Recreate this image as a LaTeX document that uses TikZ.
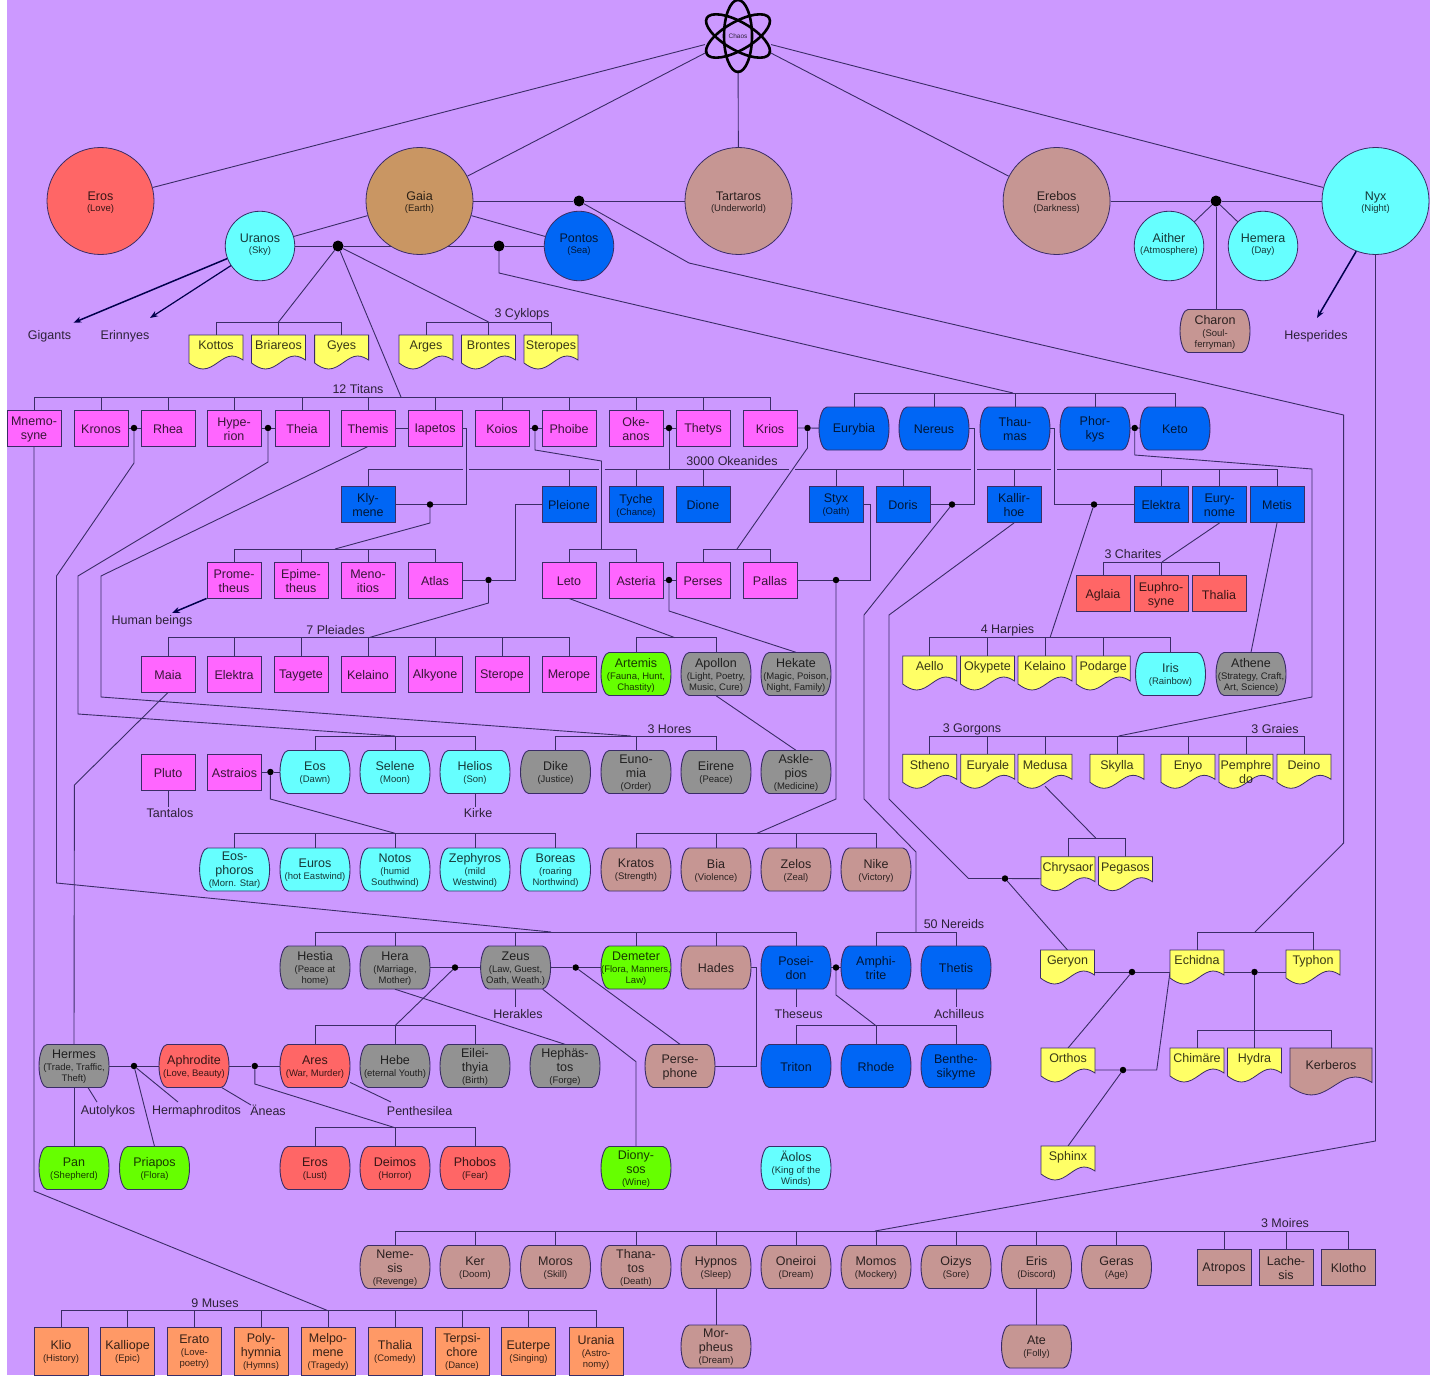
\documentclass[tikz,border=0pt]{standalone}
\usepackage{fontspec}
\setmainfont{Liberation Sans}
\usetikzlibrary{arrows.meta}
\pgfdeclarelayer{bg}
\pgfdeclarelayer{shp}
\pgfsetlayers{bg,shp,main}
\definecolor{cBg}{HTML}{CC99FF}
\definecolor{cLine}{HTML}{3A2C66}
\definecolor{cMag}{HTML}{FF66FF}
\definecolor{cBlu}{HTML}{0066F5}
\definecolor{cCya}{HTML}{66FFFF}
\definecolor{cRed}{HTML}{FF6666}
\definecolor{cBrn}{HTML}{C69693}
\definecolor{cTan}{HTML}{C99663}
\definecolor{cGry}{HTML}{929292}
\definecolor{cGrn}{HTML}{66FF00}
\definecolor{cOra}{HTML}{FF9966}
\definecolor{cYel}{HTML}{FFFF66}
\newcommand\sm[1]{{\fontsize{9.5}{11}\selectfont #1}}
\newcommand\toppad[1]{\everycr{\noalign{\vskip#1\global\everycr{}}}}
\newcommand\dn{\rule[-5pt]{0pt}{1pt}}
\tikzset{
  base/.style={inner sep=0pt,align=center,text opacity=0.78,font=\fontsize{12.5}{14}\selectfont},
  tx/.style={base,execute at begin node={\rule{0pt}{11pt}\toppad{2pt}}},
  rec/.style={tx,rectangle,draw=cLine,line width=0.9pt,fill=#1,minimum width=54pt,minimum height=36pt},
  barbody/.style={draw=cLine,line width=0.9pt},
  bar/.style={tx,rectangle,minimum width=70pt,minimum height=43pt,
    append after command={\pgfextra{\begin{pgfonlayer}{shp}
      \path[barbody,fill=#1,shift={(\tikzlastnode.center)}]
        (-27,-21.5) -- (27,-21.5)
        .. controls (31,-21.5) and (35,-12) .. (35,0)
        .. controls (35,12) and (31,21.5) .. (27,21.5)
        -- (-27,21.5)
        .. controls (-31,21.5) and (-35,12) .. (-35,0)
        .. controls (-35,-12) and (-31,-21.5) .. (-27,-21.5) -- cycle;
      \end{pgfonlayer}}}},
  big/.style={base,execute at begin node={\toppad{3pt}},circle,draw=cLine,line width=0.8pt,fill=#1,minimum size=107pt},
  mid/.style={base,circle,draw=cLine,line width=0.8pt,fill=#1,minimum size=69.5pt},
  doctext/.style={tx,rectangle,anchor=north,inner xsep=0pt,inner ysep=3.5pt},
  docbody/.style={draw=cLine,line width=0.8pt,fill=cYel},
  lab/.style={tx},
  jdot/.style={circle,fill=black,inner sep=0pt,minimum size=6.5pt},
  jbig/.style={circle,fill=black,inner sep=0pt,minimum size=11pt},
  conn/.style={draw=cLine,line width=0.9pt},
  arr/.style={draw=black!70!blue,line width=1.5pt,-{Stealth[length=8pt,width=6pt]}},
  atom/.style={draw=black,line width=2.6pt},
}
\newcommand\docnode[4]{%
  \path[docbody,shift={(#2,#3)}] (-27,0) -- (27,0) -- (27,25)
    .. controls (24,23) and (20,21) .. (16,21)
    .. controls (6,21) and (-2,34) .. (-13,34)
    .. controls (-18,34) and (-23,31) .. (-27,28) -- cycle;
  \node[doctext] (#1) at (#2,#3) {#4};
  \coordinate (#1-l) at (#2-27,#3+22);
  \coordinate (#1-r) at (#2+27,#3+22);
  \coordinate (#1-b) at (#2,#3+32);
}
\begin{document}
\begin{tikzpicture}[x=1pt,y=-1pt]
\useasboundingbox (0,0) rectangle (1431,1375);

% ---------- top gods
\node[base,circle,minimum size=68pt,font=\fontsize{6.5}{7}\selectfont] (chaos) at (738,36) {Chaos};
\foreach \a in {0,60,120}
  \draw[atom,shift={(chaos.center)},rotate=\a] (0,0) ellipse [x radius=14,y radius=36];
\node[big=cRed] (eros) at (100.5,201) {Eros\\[-3pt]\sm{(Love)}};
\node[big=cTan] (gaia) at (419.5,201) {Gaia\\[-3pt]\sm{(Earth)}};
\node[big=cBrn] (tartaros) at (738.5,201) {Tartaros\\[-3pt]\sm{(Underworld)}};
\node[big=cBrn] (erebos) at (1056.6,201) {Erebos\\[-3pt]\sm{(Darkness)}};
\node[big=cCya] (nyx) at (1375.5,201) {Nyx\\[-3pt]\sm{(Night)}};
\node[mid=cCya] (uranos) at (260,246) {Uranos\\[-3pt]\sm{(Sky)}\dn};
\node[mid=cBlu] (pontos) at (579,246) {Pontos\\[-3pt]\sm{(Sea)}\dn};
\node[mid=cCya] (aither) at (1169,246) {Aither\\[-3pt]\sm{(Atmosphere)}\dn};
\node[mid=cCya] (hemera) at (1263,246) {Hemera\\[-3pt]\sm{(Day)}\dn};
\node[bar=cBrn] (charon) at (1215,331) {Charon\\[-2pt]\sm{(Soul-}\\[-3pt]\sm{ferryman)}};

\node[jbig] (jUr) at (338,246) {};
\node[jbig] (jPo) at (499,246) {};
\node[jbig] (jGT) at (579,201) {};
\node[jbig] (jEr) at (1216,201) {};

\node[lab] (gigants) at (49.5,335.5) {Gigants};
\node[lab] (erinnyes) at (125,335.5) {Erinnyes};
\node[lab] (hesperides) at (1316,335.5) {Hesperides};

% ---------- cyklops
\docnode{kottos}{216}{335}{Kottos}
\docnode{briareos}{278.5}{335}{Briareos}
\docnode{gyes}{341.6}{335}{Gyes}
\docnode{arges}{426}{335}{Arges}
\docnode{brontes}{488.5}{335}{Brontes}
\docnode{steropes}{551}{335}{Steropes}
\node[lab] (lCyk) at (522,313) {3 Cyklops};
\node[lab] (lTit) at (358,388.5) {12 Titans};

% ---------- titans
\node[rec=cMag] (mnemo) at (34,428) {Mnemo-\\syne};
\node[rec=cMag] (kronos) at (101,428) {Kronos};
\node[rec=cMag] (rhea) at (168,428) {Rhea};
\node[rec=cMag] (hyperion) at (234,428) {Hype-\\rion};
\node[rec=cMag] (theia) at (302,428) {Theia};
\node[rec=cMag] (themis) at (368,428) {Themis};
\node[rec=cMag] (iapetos) at (435,428) {Iapetos};
\node[rec=cMag] (koios) at (502,428) {Koios};
\node[rec=cMag] (phoibe) at (569,428) {Phoibe};
\node[rec=cMag] (okeanos) at (636,428) {Oke-\\anos};
\node[rec=cMag] (thetys) at (703,428) {Thetys};
\node[rec=cMag] (krios) at (770,428) {Krios};
\node[bar=cBlu] (eurybia) at (854,428.5) {Eurybia};
\node[bar=cBlu] (nereus) at (934,428.5) {Nereus};
\node[bar=cBlu] (thaumas) at (1015,428.5) {Thau-\\mas};
\node[bar=cBlu] (phorkys) at (1095,428.5) {Phor-\\kys};
\node[bar=cBlu] (keto) at (1175,428.5) {Keto};
\node[jdot] (jKR) at (134,428) {};
\node[jdot] (jHT) at (268,428) {};
\node[jdot] (jKP) at (535,428) {};
\node[jdot] (jOT) at (669,428) {};
\node[jdot] (jKE) at (807.5,428) {};
\node[jdot] (jPK) at (1134.7,428) {};

% ---------- okeanides row
\node[lab] (lOke) at (732,460) {3000 Okeanides};
\node[rec=cBlu] (klymene) at (368,504.5) {Kly-\\mene};
\node[rec=cBlu] (pleione) at (569,504.5) {Pleione};
\node[rec=cBlu] (tyche) at (636,504.5) {Tyche\\[-2pt]\sm{(Chance)}};
\node[rec=cBlu] (dione) at (703,504.5) {Dione};
\node[rec=cBlu] (styx) at (836,504.5) {Styx\\[-2pt]\sm{(Oath)}};
\node[rec=cBlu] (doris) at (903,504.5) {Doris};
\node[rec=cBlu] (kallirhoe) at (1014,504.5) {Kallir-\\hoe};
\node[rec=cBlu] (elektraO) at (1161,504.5) {Elektra};
\node[rec=cBlu] (eurynome) at (1219.5,504.5) {Eury-\\nome};
\node[rec=cBlu] (metis) at (1277,504.5) {Metis};
\node[jdot] (jIK) at (430,504.5) {};
\node[jdot] (jND) at (952,504.5) {};
\node[jdot] (jTE) at (1094,504.5) {};

% ---------- row 580
\node[rec=cMag] (prometheus) at (234,580) {Prome-\\theus};
\node[rec=cMag] (epimetheus) at (301,580) {Epime-\\theus};
\node[rec=cMag] (menoitios) at (368,580) {Meno-\\itios};
\node[rec=cMag] (atlas) at (435,580) {Atlas};
\node[rec=cMag] (leto) at (569,580) {Leto};
\node[rec=cMag] (asteria) at (636,580) {Asteria};
\node[rec=cMag] (perses) at (703,580) {Perses};
\node[rec=cMag] (pallas) at (770,580) {Pallas};
\node[jdot] (jAP) at (488.5,580) {};
\node[jdot] (jAs) at (669,580) {};
\node[jdot] (jPS) at (836,580) {};
\node[lab] (humans) at (152,620.5) {Human beings};
\node[lab] (lCha) at (1133,553.5) {3 Charites};
\node[rec=cRed] (aglaia) at (1103,593.8) {Aglaia};
\node[rec=cRed] (euphrosyne) at (1161,593.8) {Euphro-\\syne};
\node[rec=cRed] (thaliaC) at (1219,593.8) {Thalia};

% ---------- row 674
\node[lab] (lPle) at (335.6,629.5) {7 Pleiades};
\node[lab] (lHar) at (1007.5,629.5) {4 Harpies};
\node[rec=cMag] (maia) at (168,674) {Maia};
\node[rec=cMag] (elektraP) at (234,674) {Elektra};
\node[rec=cMag] (taygete) at (301,674) {Taygete};
\node[rec=cMag] (kelainoP) at (368,674) {Kelaino};
\node[rec=cMag] (alkyone) at (435,674) {Alkyone};
\node[rec=cMag] (sterope) at (502,674) {Sterope};
\node[rec=cMag] (merope) at (569,674) {Merope};
\node[bar=cGrn] (artemis) at (636,674) {Artemis\\[-2pt]\sm{(Fauna, Hunt,}\\[-3pt]\sm{Chastity)}};
\node[bar=cGry] (apollon) at (716,674) {Apollon\\[-2pt]\sm{(Light, Poetry,}\\[-3pt]\sm{Music, Cure)}};
\node[bar=cGry] (hekate) at (796,674) {Hekate\\[-2pt]\sm{(Magic, Poison,}\\[-3pt]\sm{Night, Family)}};
\docnode{aello}{929.7}{656}{Aello}
\docnode{okypete}{987.5}{656}{Okypete}
\docnode{kelainoH}{1045}{656}{Kelaino}
\docnode{podarge}{1103.2}{656}{Podarge}
\node[bar=cCya] (iris) at (1170.5,674) {Iris\\[-2pt]\sm{(Rainbow)}};
\node[bar=cGry] (athene) at (1251,674) {Athene\\[-2pt]\sm{(Strategy, Craft,}\\[-3pt]\sm{Art, Science)}};

% ---------- row 772
\node[lab] (lHor) at (669.4,728) {3 Hores};
\node[lab] (lGor) at (972,728) {3 Gorgons};
\node[lab] (lGra) at (1275,728) {3 Graies};
\node[rec=cMag] (pluto) at (168,772) {Pluto};
\node[rec=cMag] (astraios) at (234.5,772) {Astraios};
\node[bar=cCya] (eosD) at (315,772) {Eos\\[-2pt]\sm{(Dawn)}};
\node[bar=cCya] (selene) at (395,772) {Selene\\[-2pt]\sm{(Moon)}};
\node[bar=cCya] (helios) at (475,772) {Helios\\[-2pt]\sm{(Son)}};
\node[bar=cGry] (dike) at (555.5,772) {Dike\\[-2pt]\sm{(Justice)}};
\node[bar=cGry] (eunomia) at (636,772) {Euno-\\mia\\[-2pt]\sm{(Order)}};
\node[bar=cGry] (eirene) at (716,772) {Eirene\\[-2pt]\sm{(Peace)}};
\node[bar=cGry] (asklepios) at (796,772) {Askle-\\pios\\[-2pt]\sm{(Medicine)}};
\node[jdot] (jAE) at (270.4,772) {};
\docnode{stheno}{929.7}{754.3}{Stheno}
\docnode{euryale}{987.8}{754.3}{Euryale}
\docnode{medusa}{1045}{754.3}{Medusa}
\docnode{skylla}{1117}{754.3}{Skylla}
\docnode{enyo}{1188}{754.3}{Enyo}
\docnode{pemphredo}{1246}{754.3}{Pemphre\\do}
\docnode{deino}{1304}{754.3}{Deino}
\node[lab] (tantalos) at (170,812.5) {Tantalos};
\node[lab] (kirke) at (478,812.5) {Kirke};

% ---------- row 869
\node[bar=cCya] (eosphoros) at (234.6,869.5) {Eos-\\phoros\\[-2pt]\sm{(Morn. Star)}};
\node[bar=cCya] (euros) at (315,869.5) {Euros\\[-2pt]\sm{(hot Eastwind)}};
\node[bar=cCya] (notos) at (395,869.5) {Notos\\[-2pt]\sm{(humid}\\[-3pt]\sm{Southwind)}};
\node[bar=cCya] (zephyros) at (475,869.5) {Zephyros\\[-2pt]\sm{(mild}\\[-3pt]\sm{Westwind)}};
\node[bar=cCya] (boreas) at (555.5,869.5) {Boreas\\[-2pt]\sm{(roaring}\\[-3pt]\sm{Northwind)}};
\node[bar=cBrn] (kratos) at (636,869.5) {Kratos\\[-2pt]\sm{(Strength)}};
\node[bar=cBrn] (bia) at (716,869.5) {Bia\\[-2pt]\sm{(Violence)}};
\node[bar=cBrn] (zelos) at (796,869.5) {Zelos\\[-2pt]\sm{(Zeal)}};
\node[bar=cBrn] (nike) at (876,869.5) {Nike\\[-2pt]\sm{(Victory)}};
\docnode{chrysaor}{1068}{856.7}{Chrysaor}
\docnode{pegasos}{1125.4}{856.7}{Pegasos}
\node[jdot] (jKC) at (1005,878.5) {};

% ---------- row 968
\node[lab] (lNer) at (954,923) {50 Nereids};
\node[bar=cGry] (hestia) at (315,967.5) {Hestia\\[-2pt]\sm{(Peace at}\\[-3pt]\sm{home)}};
\node[bar=cGry] (hera) at (395,967.5) {Hera\\[-2pt]\sm{(Marriage,}\\[-3pt]\sm{Mother)}};
\node[bar=cGry] (zeus) at (515.6,967.5) {Zeus\\[-2pt]\sm{(Law, Guest,}\\[-3pt]\sm{Oath, Weath.)}};
\node[bar=cGrn] (demeter) at (636,967.5) {Demeter\\[-2pt]\sm{(Flora, Manners,}\\[-3pt]\sm{Law)}};
\node[bar=cBrn] (hades) at (716,967.5) {Hades};
\node[bar=cBlu] (poseidon) at (796,967.5) {Posei-\\don};
\node[bar=cBlu] (amphitrite) at (876,967.5) {Amphi-\\trite};
\node[bar=cBlu] (thetis) at (956,967.5) {Thetis};
\node[jdot] (jHZ) at (455,967.5) {};
\node[jdot] (jZD) at (575.7,967.5) {};
\node[jdot] (jPA) at (836,967.5) {};
\docnode{geryon}{1067.5}{950}{Geryon}
\docnode{echidna}{1197}{950}{Echidna}
\docnode{typhon}{1313}{950}{Typhon}
\node[jdot] (jGE) at (1132,972) {};
\node[jdot] (jET) at (1254.5,972) {};
\node[lab] (herakles) at (518,1013) {Herakles};
\node[lab] (theseus) at (798.6,1013) {Theseus};
\node[lab] (achilleus) at (959,1013) {Achilleus};

% ---------- row 1066
\node[bar=cGry] (hermes) at (74,1066) {Hermes\\[-2pt]\sm{(Trade, Traffic,}\\[-3pt]\sm{Theft)}};
\node[bar=cRed] (aphrodite) at (194,1066) {Aphrodite\\[-2pt]\sm{(Love, Beauty)}};
\node[bar=cRed] (ares) at (315,1066) {Ares\\[-2pt]\sm{(War, Murder)}};
\node[bar=cGry] (hebe) at (395,1066) {Hebe\\[-2pt]\sm{(eternal Youth)}};
\node[bar=cGry] (eileithyia) at (475,1066) {Eilei-\\thyia\\[-2pt]\sm{(Birth)}};
\node[bar=cGry] (hephaistos) at (565,1066) {Hephäs-\\tos\\[-2pt]\sm{(Forge)}};
\node[bar=cBrn] (persephone) at (680,1066) {Perse-\\phone};
\node[bar=cBlu] (triton) at (796,1066) {Triton};
\node[bar=cBlu] (rhode) at (876,1066) {Rhode};
\node[bar=cBlu] (benthesikyme) at (956,1066) {Benthe-\\sikyme};
\node[jdot] (jHA) at (134,1066) {};
\node[jdot] (jAA) at (254.8,1066) {};
\docnode{orthos}{1068}{1048}{Orthos}
\docnode{chimaere}{1197}{1048}{Chimäre}
\docnode{hydra}{1254.5}{1048}{Hydra}
\path[docbody,fill=cBrn,shift={(1331,1048)},xscale=1.52,yscale=1.38] (-27,0) -- (27,0) -- (27,25)
    .. controls (24,23) and (20,21) .. (16,21)
    .. controls (6,21) and (-2,34) .. (-13,34)
    .. controls (-18,34) and (-23,31) .. (-27,28) -- cycle;
\node[doctext,inner ysep=10pt] (kerberos) at (1331,1048) {Kerberos};
\node[jdot] (jOS) at (1123,1070) {};
\node[lab] (autolykos) at (108,1110.5) {Autolykos};
\node[lab] (hermaphroditos) at (196.5,1110.5) {Hermaphroditos};
\node[lab] (aneas) at (268,1110.5) {Äneas};
\node[lab] (penthesilea) at (419.6,1110.5) {Penthesilea};

% ---------- row 1168
\node[bar=cGrn] (pan) at (74,1168) {Pan\\[-2pt]\sm{(Shepherd)}};
\node[bar=cGrn] (priapos) at (154.5,1168) {Priapos\\[-2pt]\sm{(Flora)}};
\node[bar=cRed] (erosL) at (315,1168) {Eros\\[-2pt]\sm{(Lust)}};
\node[bar=cRed] (deimos) at (395,1168) {Deimos\\[-2pt]\sm{(Horror)}};
\node[bar=cRed] (phobos) at (475,1168) {Phobos\\[-2pt]\sm{(Fear)}};
\node[bar=cGrn] (dionysos) at (636,1168) {Diony-\\sos\\[-2pt]\sm{(Wine)}};
\node[bar=cCya] (aolos) at (796,1168) {Äolos\\[-2pt]\sm{(King of the}\\[-3pt]\sm{Winds)}};
\docnode{sphinx}{1068}{1146}{Sphinx}

% ---------- row 1267
\node[lab] (lMoi) at (1285,1222) {3 Moires};
\node[bar=cBrn] (nemesis) at (395,1267) {Neme-\\sis\\[-2pt]\sm{(Revenge)}};
\node[bar=cBrn] (ker) at (475,1267) {Ker\\[-2pt]\sm{(Doom)}};
\node[bar=cBrn] (moros) at (555.5,1267) {Moros\\[-2pt]\sm{(Skill)}};
\node[bar=cBrn] (thanatos) at (636,1267) {Thana-\\tos\\[-2pt]\sm{(Death)}};
\node[bar=cBrn] (hypnos) at (716,1267) {Hypnos\\[-2pt]\sm{(Sleep)}};
\node[bar=cBrn] (oneiroi) at (796,1267) {Oneiroi\\[-2pt]\sm{(Dream)}};
\node[bar=cBrn] (momos) at (876,1267) {Momos\\[-2pt]\sm{(Mockery)}};
\node[bar=cBrn] (oizys) at (956,1267) {Oizys\\[-2pt]\sm{(Sore)}};
\node[bar=cBrn] (eris) at (1036.5,1267) {Eris\\[-2pt]\sm{(Discord)}};
\node[bar=cBrn] (geras) at (1116.5,1267) {Geras\\[-2pt]\sm{(Age)}};
\node[rec=cBrn] (atropos) at (1224,1267) {Atropos};
\node[rec=cBrn] (lachesis) at (1286,1267) {Lache-\\sis};
\node[rec=cBrn] (klotho) at (1348.5,1267) {Klotho};
\node[bar=cBrn] (morpheus) at (716,1346.5) {Mor-\\pheus\\[-2pt]\sm{(Dream)}};
\node[bar=cBrn] (ate) at (1036.5,1346.5) {Ate\\[-2pt]\sm{(Folly)}};

% ---------- muses
\node[lab] (lMus) at (215,1302) {9 Muses};
\node[rec=cOra,minimum height=48pt] (klio) at (61,1351) {Klio\\[-2pt]\sm{(History)}};
\node[rec=cOra,minimum height=48pt] (kalliope) at (127.6,1351) {Kalliope\\[-2pt]\sm{(Epic)}};
\node[rec=cOra,minimum height=48pt] (erato) at (194.3,1351) {Erato\\[-2pt]\sm{(Love-}\\[-3pt]\sm{poetry)}};
\node[rec=cOra,minimum height=48pt] (polyhymnia) at (261,1351) {Poly-\\hymnia\\[-2pt]\sm{(Hymns)}};
\node[rec=cOra,minimum height=48pt] (melpomene) at (328,1351) {Melpo-\\mene\\[-2pt]\sm{(Tragedy)}};
\node[rec=cOra,minimum height=48pt] (thaliaM) at (395,1351) {Thalia\\[-2pt]\sm{(Comedy)}};
\node[rec=cOra,minimum height=48pt] (terpsichore) at (462,1351) {Terpsi-\\chore\\[-2pt]\sm{(Dance)}};
\node[rec=cOra,minimum height=48pt] (euterpe) at (528.5,1351) {Euterpe\\[-2pt]\sm{(Singing)}};
\node[rec=cOra,minimum height=48pt] (urania) at (596,1351) {Urania\\[-2pt]\sm{(Astro-}\\[-3pt]\sm{nomy)}};

% ---------- connectors, behind the nodes
\begin{pgfonlayer}{bg}
\fill[white] (0,0) rectangle (1431,1375);
\fill[cBg] (7,0) rectangle (1429.5,1375);

\coordinate (busKot) at (278.5,322);
\coordinate (busCyk) at (488.5,322);
\coordinate (busTit) at (401,397);
\coordinate (busEur) at (1013,393);
\coordinate (okbus) at (669,469);
\coordinate (busAtl) at (335,549);
\coordinate (busLet) at (601.5,549);
\coordinate (busPer) at (737,549);
\coordinate (busCha) at (1162,562);
\coordinate (busPle) at (368.7,637.7);
\coordinate (busArt) at (675,637.7);
\coordinate (busHar) at (1050,637.7);
\coordinate (busEos) at (395,736);
\coordinate (busHor) at (631,736);
\coordinate (busGor) at (1118.6,736);
\coordinate (busWin) at (395,833.3);
\coordinate (busKra) at (757,833.3);
\coordinate (busChr) at (1095.7,838);
\coordinate (busZeus) at (551,932);
\coordinate (busNer) at (916,932);
\coordinate (busEch) at (1255,932);
\coordinate (busAre) at (395,1025.7);
\coordinate (busTri) at (876,1025.7);
\coordinate (busChi) at (1254.5,1030.7);
\coordinate (busEro) at (395,1127.7);
\coordinate (busNyx) at (875,1231);
\coordinate (busMus) at (328,1310.7);

\foreach \n in {eros,gaia,tartaros,erebos,nyx} \draw[conn] (chaos) -- (\n);
\draw[conn] (gaia) -- (uranos);
\draw[conn] (gaia) -- (pontos);
\draw[conn] (gaia) -- (jGT) -- (tartaros);
\draw[conn] (uranos) -- (jUr) -- (jPo) -- (pontos);
\draw[conn] (erebos) -- (jEr) -- (nyx);
\draw[conn] (jEr) -- (aither);
\draw[conn] (jEr) -- (hemera);
\draw[conn] (jEr) -- (charon.north -| jEr);
\draw[conn] (jUr) -- (busKot);
\draw[conn] (jUr) -- (busCyk);
\draw[conn] (jUr) -- (busTit);
\foreach \n in {kottos,briareos,gyes} \draw[conn] (busKot) -| (\n.north);
\foreach \n in {arges,brontes,steropes} \draw[conn] (busCyk) -| (\n.north);
\foreach \n in {mnemo,kronos,rhea,hyperion,theia,themis,iapetos,koios,phoibe,okeanos,thetys,krios}
  \draw[conn] (busTit) -| (\n.north);
\draw[conn] (jPo) -- (499,273) -- (busEur);
\foreach \n in {eurybia,nereus,thaumas,phorkys,keto} \draw[conn] (busEur) -| (\n.north);
\draw[conn] (jGT) -- (689,263) -- (1343.6,415) -- (1343.6,843) -- (busEch);
\foreach \n in {echidna,typhon} \draw[conn] (busEch) -| (\n.north);

% titan couples
\draw[conn] (kronos) -- (jKR) -- (rhea);
\draw[conn] (hyperion) -- (jHT) -- (theia);
\draw[conn] (themis) -- (iapetos);
\draw[conn] (koios) -- (jKP) -- (phoibe);
\draw[conn] (okeanos) -- (jOT) -- (thetys);
\draw[conn] (krios) -- (jKE) -- (eurybia);
\draw[conn] (phorkys) -- (jPK) -- (keto);
\draw[conn] (jKR) -- (134,463) -- (56.5,576) -- (56.5,883) -- (busZeus);
\foreach \n in {hestia,hera,zeus,demeter,hades,poseidon} \draw[conn] (busZeus) -| (\n.north);
\draw[conn] (jHT) -- (268,462) -- (78,576) -- (78,714) -- (busEos);
\foreach \n in {eosD,selene,helios} \draw[conn] (busEos) -| (\n.north);
\draw[conn] (themis.south) -- (101,576) -- (101,697) -- (busHor);
\foreach \n in {dike,eunomia,eirene} \draw[conn] (busHor) -| (\n.north);

% 3000 Okeanides bus, broken where other lines cross it
\draw[conn] (jOT) -- (okbus);
\draw[conn] (klymene.north |- okbus) -- (463,469);
\draw[conn] (469,469) -- (598.5,469);
\draw[conn] (604.5,469) -- (789,469);
\draw[conn] (795,469) -- (971,469);
\draw[conn] (977,469) -- (1051,469);
\draw[conn] (1057,469) -- (metis.north |- okbus);
\foreach \n in {klymene,pleione,tyche,dione,styx,doris,kallirhoe,elektraO,eurynome,metis}
  \draw[conn] (\n.north |- okbus) -- (\n.north);

\draw[conn] (iapetos.east) -- (466,428) -- (466,504.5) -- (jIK) -- (klymene);
\draw[conn] (jIK) -- (430,523) -- (busAtl);
\foreach \n in {prometheus,epimetheus,menoitios,atlas} \draw[conn] (busAtl) -| (\n.north);
\draw[conn] (jKP) -- (535,450) -- (601.5,461) -- (busLet);
\foreach \n in {leto,asteria} \draw[conn] (busLet) -| (\n.north);
\draw[conn] (jKE) -- (807.5,448) -- (busPer);
\foreach \n in {perses,pallas} \draw[conn] (busPer) -| (\n.north);
\draw[conn] (nereus.east) -- (974,428.5) -- (974,504.5) -- (jND) -- (doris);
\draw[conn] (jND) -- (864,615) -- (864,799) -- (916,852) -- (busNer);
\foreach \n in {amphitrite,thetis} \draw[conn] (busNer) -| (\n.north);
\draw[conn] (thaumas.east) -- (1054,428.5) -- (1054,504.5) -- (jTE) -- (elektraO);
\draw[conn] (jTE) -- (busHar);
\foreach \n in {aello,okypete,kelainoH,podarge,iris} \draw[conn] (busHar) -| (\n.north);
\draw[conn] (eurynome.south) -- (busCha);
\foreach \n in {aglaia,euphrosyne,thaliaC} \draw[conn] (busCha) -| (\n.north);
\draw[conn] (metis.south) -- (athene.north);
\draw[conn] (jPK) -- (1134.7,455) -- (1312,469) -- (1312,697) -- (busGor);
\foreach \n in {stheno,euryale,medusa,skylla,enyo,pemphredo,deino} \draw[conn] (busGor) -| (\n.north);
\draw[conn] (kallirhoe.south) -- (889,615) -- (889,799) -- (968.5,878.5) -- (jKC) -- (chrysaor-l);
\draw[conn] (jKC) -- (geryon.north);
\draw[conn] (medusa-b) -- (busChr);
\foreach \n in {chrysaor,pegasos} \draw[conn] (busChr) -| (\n.north);

% row 580 couples
\draw[conn] (pleione.west) -- (515,504.5) -- (515,580) -- (jAP) -- (atlas);
\draw[conn] (jAP) -- (488.5,603) -- (busPle);
\foreach \n in {maia,elektraP,taygete,kelainoP,alkyone,sterope,merope} \draw[conn] (busPle) -| (\n.north);
\draw[conn] (leto.south) -- (busArt);
\foreach \n in {artemis,apollon} \draw[conn] (busArt) -| (\n.north);
\draw[conn] (asteria) -- (jAs) -- (perses);
\draw[conn] (jAs) -- (669,611) -- (hekate.north);
\draw[conn] (pallas) -- (jPS) -- (870,580) -- (870,504.5) -- (styx.east);
\draw[conn] (jPS) -- (836,799) -- (busKra);
\foreach \n in {kratos,bia,zelos,nike} \draw[conn] (busKra) -| (\n.north);
\draw[conn] (apollon.south) -- (asklepios.north);
\draw[conn] (astraios) -- (jAE) -- (eosD);
\draw[conn] (jAE) -- (270.4,799) -- (busWin);
\foreach \n in {eosphoros,euros,notos,zephyros,boreas} \draw[conn] (busWin) -| (\n.north);
\draw[conn] (pluto.south) -- (pluto.south |- tantalos.north);
\draw[conn] (helios.south) -- (helios.south |- kirke.north);
\draw[conn] (maia.south) -- (74.4,785) -- (hermes.north);
\draw[conn] (mnemo.south) -- (34,1191) -- (busMus);
\foreach \n in {klio,kalliope,erato,polyhymnia,melpomene,thaliaM,terpsichore,euterpe,urania} \draw[conn] (busMus) -| (\n.north);

% Olympians
\draw[conn] (hera) -- (jHZ) -- (zeus);
\draw[conn] (zeus) -- (jZD) -- (demeter);
\draw[conn] (poseidon) -- (jPA) -- (amphitrite);
\draw[conn] (jHZ) -- (busAre);
\foreach \n in {ares,hebe,eileithyia} \draw[conn] (busAre) -| (\n.north);
\draw[conn] (jZD) -- (persephone.north);
\draw[conn] (hera.south) -- (hephaistos.north);
\draw[conn] (zeus.south) -- (zeus.south |- herakles.north);
\draw[conn] ([xshift=27pt]zeus.south) -- (636,1061.7) -- (dionysos.north);
\draw[conn] (hades.east) -- (756,967.5) -- (756,1066) -- (persephone.east);
\draw[conn] (jPA) -- (836,995) -- (busTri);
\foreach \n in {triton,rhode,benthesikyme} \draw[conn] (busTri) -| (\n.north);
\draw[conn] (poseidon.south) -- (poseidon.south |- theseus.north);
\draw[conn] (thetis.south) -- (thetis.south |- achilleus.north);
\draw[conn] (hermes) -- (jHA) -- (aphrodite);
\draw[conn] (hermes.south) -- (pan.north);
\draw[conn] (jHA) -- (priapos.north);
\coordinate (endHma) at (178,1102);
\coordinate (endAut) at (97,1102);
\coordinate (endAen) at (251,1105);
\coordinate (endPen) at (391,1102);
\draw[conn] (jHA) -- (endHma);
\draw[conn] (hermes.-57) -- (endAut);
\draw[conn] (aphrodite) -- (jAA) -- (ares);
\draw[conn] ([xshift=28pt]aphrodite.south) -- (endAen);
\draw[conn] (ares.-25) -- (endPen);
\draw[conn] (jAA) -- (254.8,1084) -- (busEro);
\foreach \n in {erosL,deimos,phobos} \draw[conn] (busEro) -| (\n.north);

% monsters
\draw[conn] (geryon-r) -- (jGE) -- (echidna-l);
\draw[conn] (echidna-r) -- (jET) -- (typhon-l);
\draw[conn] (jET) -- (hydra.north);
\foreach \n in {chimaere,kerberos} \draw[conn] (busChi) -| (\n.north);
\draw[conn] (jGE) -- (orthos.north);
\draw[conn] (orthos-r) -- (jOS) -- (1156.7,1070) -- (echidna-l);
\draw[conn] (jOS) -- (sphinx.north);

% Nyx children
\draw[conn] (nyx.south) -- (1375.5,1141) -- (busNyx);
\foreach \n in {nemesis,ker,moros,thanatos,hypnos,oneiroi,momos,oizys,eris,geras,atropos,lachesis,klotho}
  \draw[conn] (busNyx) -| (\n.north);
\draw[conn] (hypnos.south) -- (morpheus.north);
\draw[conn] (eris.south) -- (ate.north);
\end{pgfonlayer}

% arrows
\coordinate (tipGig) at (73.5,322.7);
\coordinate (tipEri) at (150,318);
\coordinate (tipHes) at (1317,318);
\coordinate (tipHum) at (172,613);
\draw[arr] (uranos.201) -- (tipGig);
\draw[arr,line width=1.2pt] (uranos.214) -- (tipEri);
\draw[arr] (nyx.249) -- (tipHes);
\draw[arr] (prometheus.south west) -- (tipHum);
\end{tikzpicture}
\end{document}
